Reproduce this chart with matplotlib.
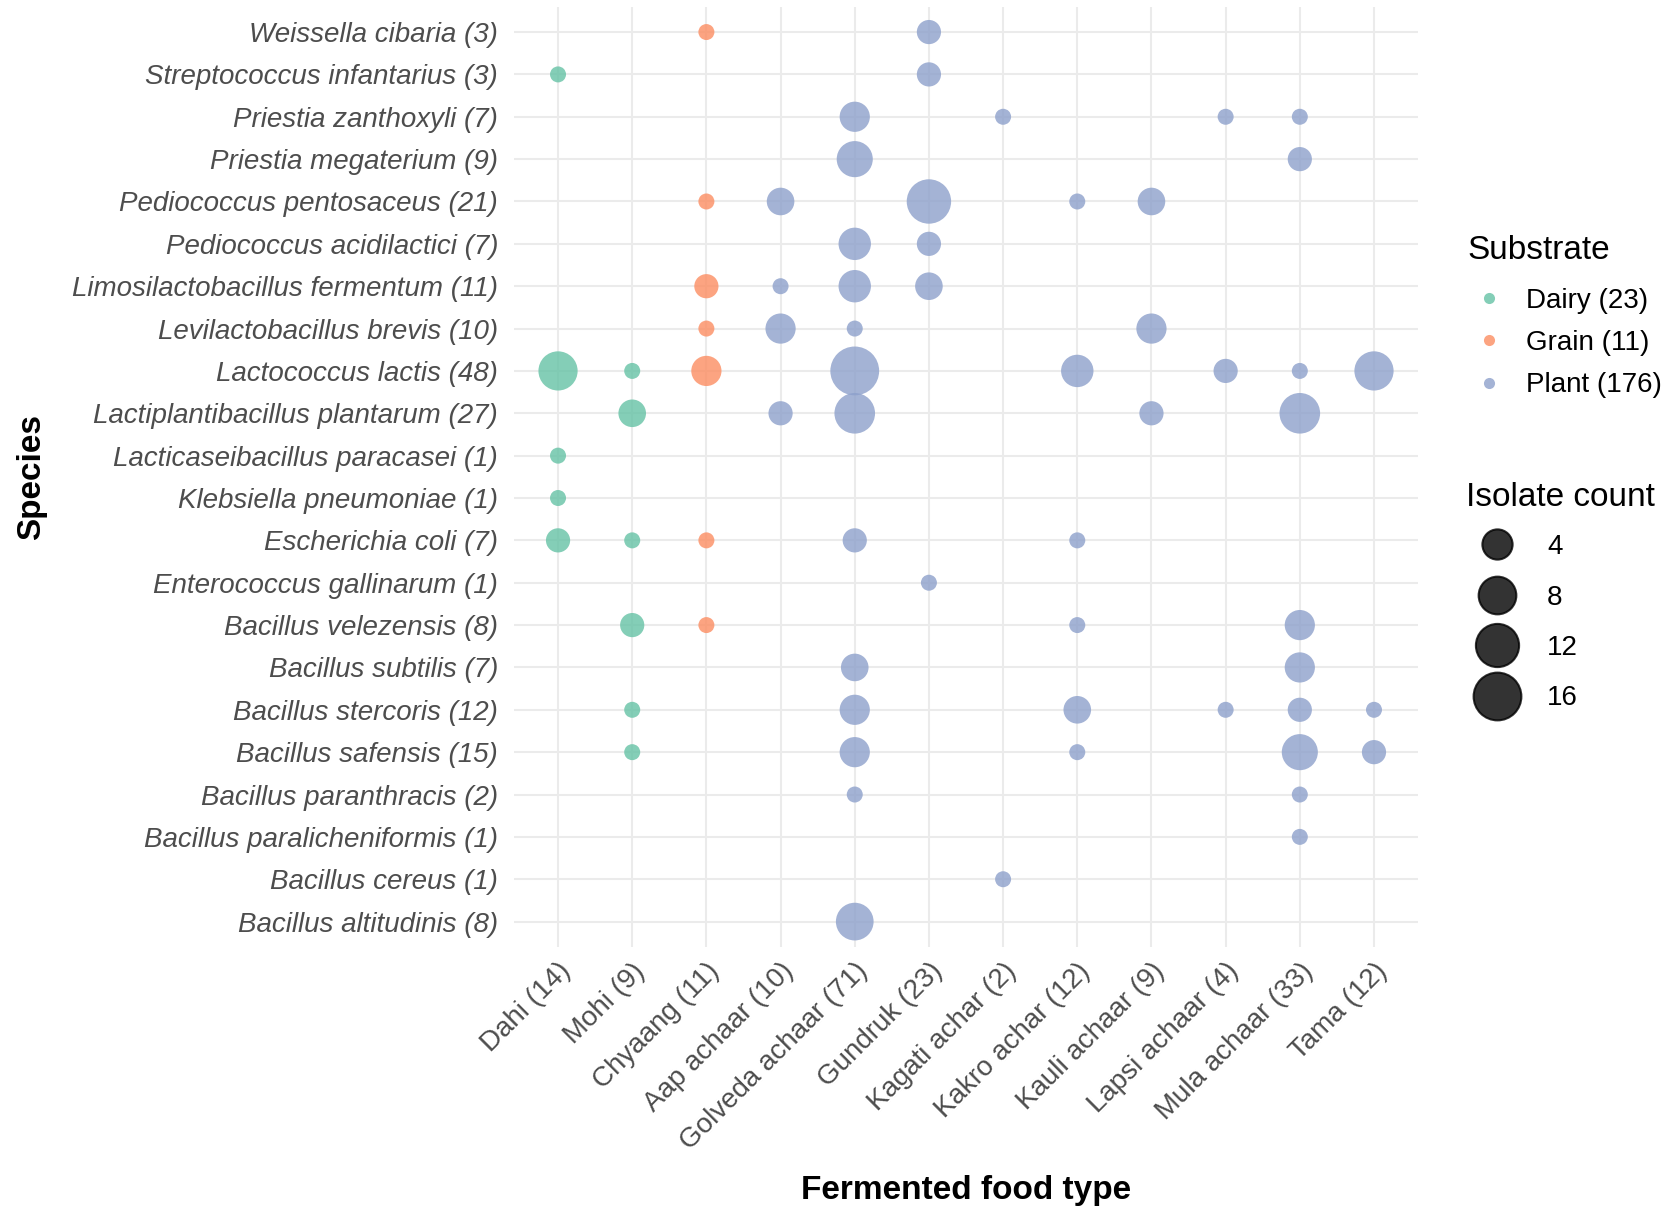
import numpy as np
import matplotlib
matplotlib.use("Agg")
import matplotlib.pyplot as plt
from matplotlib.lines import Line2D

plt.rcParams['font.family'] = ['Liberation Sans', 'DejaVu Sans']

# species, top to bottom as drawn
species = [
    "Weissella cibaria", "Streptococcus infantarius", "Priestia zanthoxyli",
    "Priestia megaterium", "Pediococcus pentosaceus", "Pediococcus acidilactici",
    "Limosilactobacillus fermentum", "Levilactobacillus brevis", "Lactococcus lactis",
    "Lactiplantibacillus plantarum", "Lacticaseibacillus paracasei", "Klebsiella pneumoniae",
    "Escherichia coli", "Enterococcus gallinarum", "Bacillus velezensis",
    "Bacillus subtilis", "Bacillus stercoris", "Bacillus safensis",
    "Bacillus paranthracis", "Bacillus paralicheniformis", "Bacillus cereus",
    "Bacillus altitudinis",
]

foods = ["Dahi", "Mohi", "Chyaang", "Aap achaar", "Golveda achaar", "Gundruk",
         "Kagati achar", "Kakro achar", "Kauli achaar", "Lapsi achaar", "Mula achaar", "Tama"]

food_substrate = ["Dairy", "Dairy", "Grain", "Plant", "Plant", "Plant",
                  "Plant", "Plant", "Plant", "Plant", "Plant", "Plant"]

# isolate counts, one row per species, columns follow foods
counts = [
    [0, 0, 1, 0, 0, 2, 0, 0, 0, 0, 0, 0],
    [1, 0, 0, 0, 0, 2, 0, 0, 0, 0, 0, 0],
    [0, 0, 0, 0, 4, 0, 1, 0, 0, 1, 1, 0],
    [0, 0, 0, 0, 7, 0, 0, 0, 0, 0, 2, 0],
    [0, 0, 1, 3, 0, 13, 0, 1, 3, 0, 0, 0],
    [0, 0, 0, 0, 5, 2, 0, 0, 0, 0, 0, 0],
    [0, 0, 2, 1, 5, 3, 0, 0, 0, 0, 0, 0],
    [0, 0, 1, 4, 1, 0, 0, 0, 4, 0, 0, 0],
    [9, 1, 4, 0, 17, 0, 0, 5, 0, 2, 1, 9],
    [0, 3, 0, 2, 10, 0, 0, 0, 2, 0, 10, 0],
    [1, 0, 0, 0, 0, 0, 0, 0, 0, 0, 0, 0],
    [1, 0, 0, 0, 0, 0, 0, 0, 0, 0, 0, 0],
    [2, 1, 1, 0, 2, 0, 0, 1, 0, 0, 0, 0],
    [0, 0, 0, 0, 0, 1, 0, 0, 0, 0, 0, 0],
    [0, 2, 1, 0, 0, 0, 0, 1, 0, 0, 4, 0],
    [0, 0, 0, 0, 3, 0, 0, 0, 0, 0, 4, 0],
    [0, 1, 0, 0, 4, 0, 0, 3, 0, 1, 2, 1],
    [0, 1, 0, 0, 4, 0, 0, 1, 0, 0, 7, 2],
    [0, 0, 0, 0, 1, 0, 0, 0, 0, 0, 1, 0],
    [0, 0, 0, 0, 0, 0, 0, 0, 0, 0, 1, 0],
    [0, 0, 0, 0, 0, 0, 1, 0, 0, 0, 0, 0],
    [0, 0, 0, 0, 8, 0, 0, 0, 0, 0, 0, 0],
]

substrates = ["Dairy", "Grain", "Plant"]
substrate_colors = {"Dairy": "#66C2A5", "Grain": "#FC8D62", "Plant": "#8DA0CB"}
size_breaks = [4, 8, 12, 16]


def diameter(v):
    # ggplot-like area scale, diameter in points
    v = np.asarray(v, dtype=float)
    return 0.72 * (16 + 8.2 * np.sqrt(v - 1))


counts = np.array(counts)
species_totals = counts.sum(axis=1)
food_totals = counts.sum(axis=0)

fig = plt.figure(figsize=(16.7, 12.07), dpi=100)
ax = fig.add_axes([0.3075, 0.2154, 0.5419, 0.7791])

for sub in substrates:
    cols = [j for j, s in enumerate(food_substrate) if s == sub]
    xs, ys, vs = [], [], []
    for i in range(len(species)):
        for j in cols:
            if counts[i, j] > 0:
                xs.append(j)
                ys.append(i)
                vs.append(counts[i, j])
    ax.scatter(xs, ys, s=diameter(vs) ** 2, color=substrate_colors[sub],
               alpha=0.8, linewidths=0, zorder=3)

ax.set_xlim(-0.6, len(foods) - 1 + 0.6)
ax.set_ylim(len(species) - 1 + 0.6, -0.6)

ax.set_xticks(range(len(foods)))
ax.set_xticklabels([f"{f} ({t})" for f, t in zip(foods, food_totals)],
                   rotation=45, ha='right', va='top', rotation_mode='anchor',
                   fontsize=20, color='#4D4D4D')
ax.set_yticks(range(len(species)))
ax.set_yticklabels([f"{s} ({t})" for s, t in zip(species, species_totals)],
                   fontsize=20, color='#4D4D4D', style='italic')
ax.tick_params(axis='both', length=0)
ax.tick_params(axis='y', pad=11)
ax.tick_params(axis='x', pad=8)

ax.grid(True, color='#EBEBEB', linewidth=1.5, zorder=0)
ax.set_axisbelow(True)
for sp in ax.spines.values():
    sp.set_visible(False)

ax.set_xlabel("Fermented food type", fontsize=24, fontweight='bold')
ax.xaxis.set_label_coords(0.5, -0.2426)
ax.set_ylabel("Species", fontsize=24, fontweight='bold')
ax.yaxis.set_label_coords(-0.515, 0.5)

# substrate legend
sub_totals = [sum(food_totals[j] for j, s in enumerate(food_substrate) if s == sub) for sub in substrates]
sub_handles = [Line2D([], [], linestyle='', marker='o', markersize=8, markeredgewidth=0,
                      color=substrate_colors[sub], alpha=0.8) for sub in substrates]
leg1 = fig.legend(sub_handles, [f"{s} ({t})" for s, t in zip(substrates, sub_totals)],
                  title="Substrate", loc='upper left', bbox_to_anchor=(0.879, 0.8049),
                  frameon=False, fontsize=20, title_fontsize=24, borderpad=0,
                  borderaxespad=0, handlelength=1.5, handletextpad=0.58,
                  labelspacing=0.58, alignment='left')
leg1._legend_box.sep = 15.5  # gap between title and keys, in points

# size legend
size_handles = [Line2D([], [], linestyle='', marker='o', markersize=float(diameter(b)),
                       markeredgewidth=1.5, markeredgecolor='black', color='black', alpha=0.8)
                for b in size_breaks]
leg2 = fig.legend(size_handles, [str(b) for b in size_breaks],
                  title="Isolate count", loc='upper left', bbox_to_anchor=(0.878, 0.601),
                  frameon=False, fontsize=20, title_fontsize=24, borderpad=0,
                  borderaxespad=0, handlelength=2.23, handletextpad=0.68,
                  labelspacing=0.88, alignment='left')
leg2._legend_box.sep = 15.5

plt.savefig('out.png', dpi=100)
